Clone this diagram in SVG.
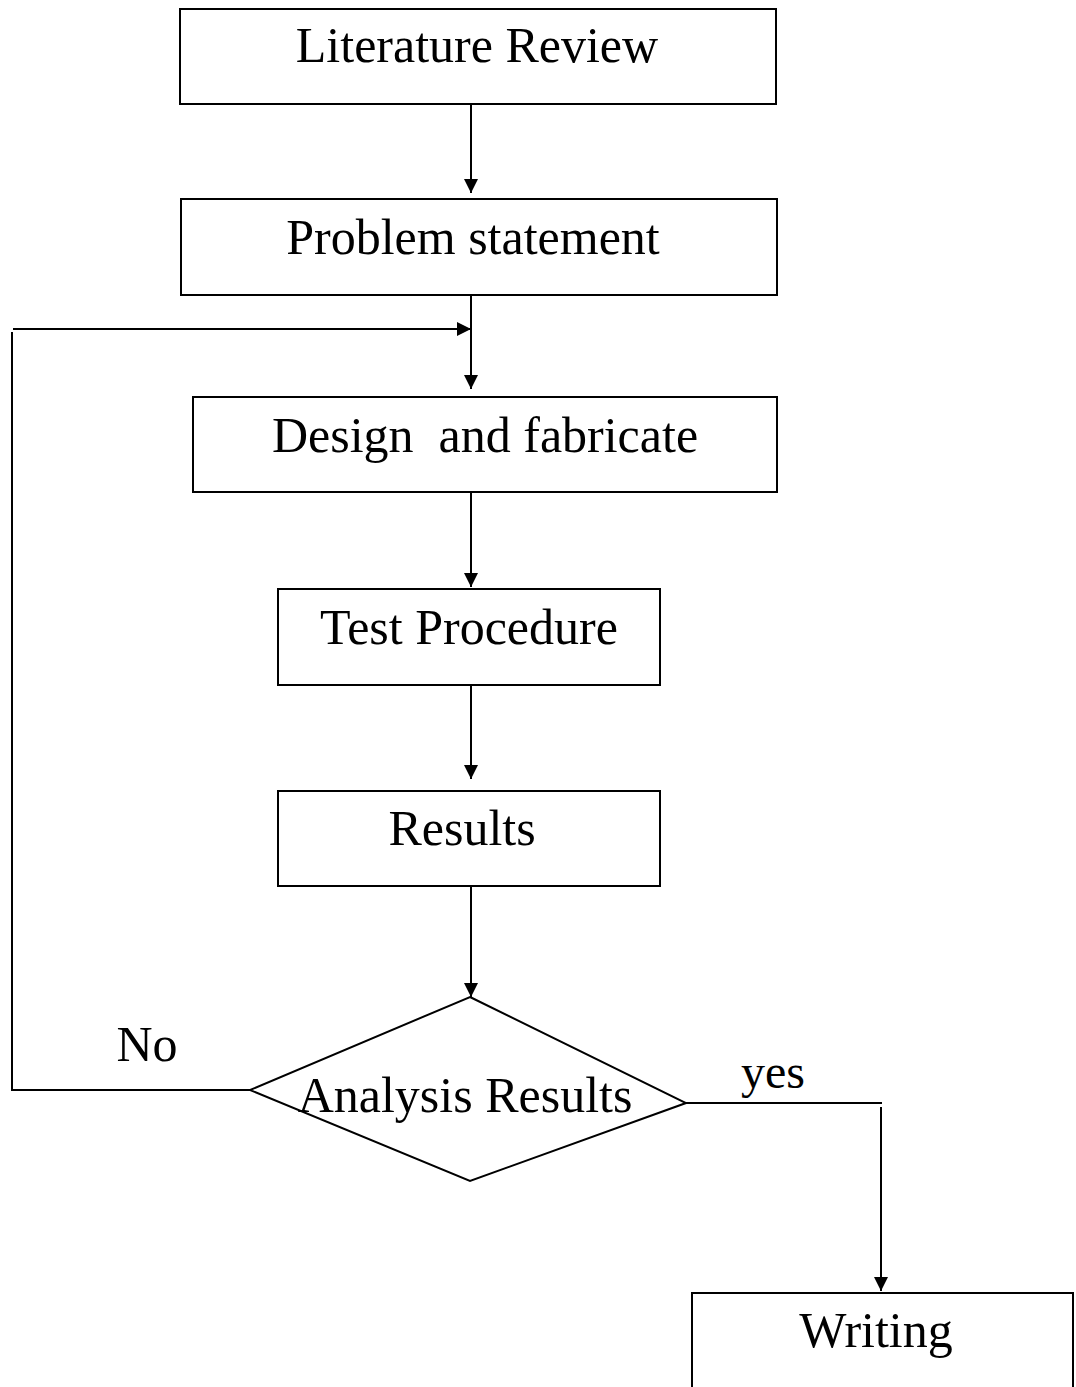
<svg xmlns="http://www.w3.org/2000/svg" width="1076" height="1387" viewBox="0 0 1076 1387">
<style>
.box{fill:#fff;stroke:#000;stroke-width:2}
.ln{fill:none;stroke:#000;stroke-width:2}
.t{font-family:"Liberation Serif","Times New Roman",serif;font-size:50px;fill:#000;text-anchor:middle}
</style>
<defs>
<marker id="ah" markerUnits="userSpaceOnUse" markerWidth="14" markerHeight="14" refX="14" refY="7" orient="auto">
<path d="M0,0 L14,7 L0,14 Z" fill="#000"/>
</marker>
</defs>
<rect width="1076" height="1387" fill="#fff"/>
<g id="connectors">
<line class="ln" x1="471" y1="104" x2="471" y2="193" marker-end="url(#ah)"/>
<line class="ln" x1="471" y1="295" x2="471" y2="389" marker-end="url(#ah)"/>
<line class="ln" x1="471" y1="492" x2="471" y2="587" marker-end="url(#ah)"/>
<line class="ln" x1="471" y1="685" x2="471" y2="779" marker-end="url(#ah)"/>
<line class="ln" x1="471" y1="886" x2="471" y2="997" marker-end="url(#ah)"/>
<polyline class="ln" points="250,1090 12,1090 12,332"/>
<line class="ln" x1="13" y1="329" x2="471" y2="329" marker-end="url(#ah)"/>
<line class="ln" x1="686" y1="1103" x2="882" y2="1103"/>
<line class="ln" x1="881" y1="1107" x2="881" y2="1291" marker-end="url(#ah)"/>
<text class="t" x="147" y="1061">No</text>
<text class="t" x="773" y="1088" style="font-size:48px">yes</text>
</g>
<g id="literature-review">
<rect class="box" x="180" y="9" width="596" height="95"/>
<text class="t" x="477" y="62">Literature Review</text>
</g>
<g id="problem-statement">
<rect class="box" x="181" y="199" width="596" height="96"/>
<text class="t" x="473" y="254">Problem statement</text>
</g>
<g id="design-fabricate">
<rect class="box" x="193" y="397" width="584" height="95"/>
<text class="t" x="485" y="452" style="white-space:pre">Design  and fabricate</text>
</g>
<g id="test-procedure">
<rect class="box" x="278" y="589" width="382" height="96"/>
<text class="t" x="469" y="644">Test Procedure</text>
</g>
<g id="results">
<rect class="box" x="278" y="791" width="382" height="95"/>
<text class="t" x="462" y="845">Results</text>
</g>
<g id="analysis-results">
<polygon class="box" points="470,997 686,1103 470,1181 250,1090"/>
<text class="t" x="465" y="1112">Analysis Results</text>
</g>
<g id="writing">
<rect class="box" x="692" y="1293" width="381" height="110"/>
<text class="t" x="876" y="1347">Writing</text>
</g>
</svg>
